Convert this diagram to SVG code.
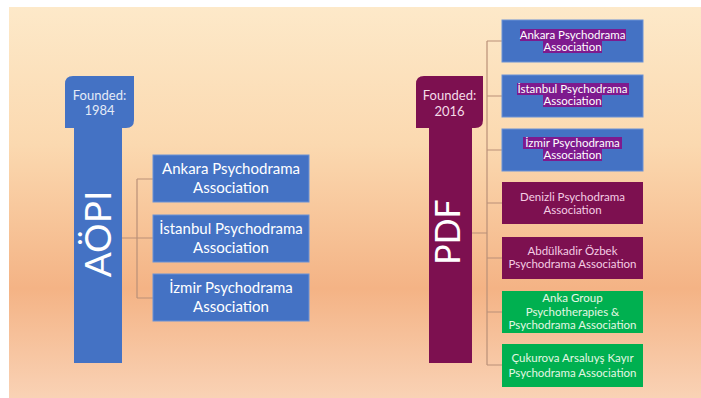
<svg xmlns="http://www.w3.org/2000/svg" width="701" height="398" viewBox="0 0 701 398">
<defs>
<linearGradient id="bg" x1="0" y1="0" x2="0" y2="1">
<stop offset="0" stop-color="#fde9c9"/>
<stop offset="0.35" stop-color="#fbd9b0"/>
<stop offset="0.72" stop-color="#f4b385"/>
<stop offset="1" stop-color="#f9d2b5"/>
</linearGradient>
<style>
text{font-family:Lato,"Liberation Sans",sans-serif;text-anchor:middle}
.blue{fill:#4472c4}
.lbox{fill:#4472c4;stroke:#6b92d6;stroke-width:1}
.maroon{fill:#7d1050}
.green{fill:#00b050}
.hl{fill:#7e1a8e}
.lt{fill:#ffffff;font-size:15px}
.ht{fill:#e4ebf7;font-size:13px}
.rt{font-size:11.5px}
.wt{fill:#ffffff}
.pt{fill:#f4cde4}
.gt{fill:#e4f7e4}
.con{fill:none;stroke:#b99078;stroke-width:1.2}
</style>
</defs>
<rect x="0" y="0" width="701" height="398" fill="#ffffff"/>
<rect x="9" y="7" width="692" height="391" fill="url(#bg)"/>

<g id="connectors">
<path class="con" d="M122 238H137M137 179V298M137 179H153M137 238H153M137 298H153"/>
<path class="con" d="M472 233H487M487 41V365M487 41H502M487 96H502M487 150H502M487 203H502M487 258H502M487 312H502M487 365H502"/>
</g>

<g id="aopi">
<rect class="blue" x="74" y="126" width="48" height="237"/>
<path class="blue" d="M73 76H134V120Q134 128 126 128H65V84Q65 76 73 76Z"/>
<text class="ht" x="99.5" y="100">Founded:</text>
<text class="ht" x="99.5" y="115">1984</text>
<text fill="#ffffff" font-size="37" transform="translate(111,234) rotate(-90)">AÖPI</text>
</g>

<g id="l1">
<rect class="lbox" x="153" y="155" width="156" height="47"/>
<text class="lt" x="231" y="174">Ankara Psychodrama</text>
<text class="lt" x="231" y="193">Association</text>
</g>
<g id="l2">
<rect class="lbox" x="153" y="215" width="156" height="47"/>
<text class="lt" x="231" y="234">İstanbul Psychodrama</text>
<text class="lt" x="231" y="253">Association</text>
</g>
<g id="l3">
<rect class="lbox" x="153" y="274" width="156" height="47"/>
<text class="lt" x="231" y="293">İzmir Psychodrama</text>
<text class="lt" x="231" y="312">Association</text>
</g>

<g id="pdf">
<rect class="maroon" x="429" y="126" width="43" height="237"/>
<path class="maroon" d="M424 76H483V120Q483 128 475 128H416V84Q416 76 424 76Z"/>
<text class="ht" x="449.5" y="100" style="fill:#f4dce8">Founded:</text>
<text class="ht" x="449.5" y="116" style="fill:#f4dce8">2016</text>
<text fill="#ffffff" font-size="34" transform="translate(460,232) rotate(-90)">PDF</text>
</g>

<g id="r1">
<rect class="lbox" x="502" y="20" width="141" height="42"/>
<rect class="hl" x="520" y="29" width="106" height="12"/>
<rect class="hl" x="543" y="41" width="59" height="12"/>
<text class="rt wt" x="572.5" y="38.5">Ankara Psychodrama</text>
<text class="rt wt" x="572.5" y="50.5">Association</text>
</g>
<g id="r2">
<rect class="lbox" x="502" y="75" width="141" height="42"/>
<rect class="hl" x="517" y="83" width="112" height="12"/>
<rect class="hl" x="543" y="95" width="59" height="12"/>
<text class="rt wt" x="572.5" y="92.5">İstanbul Psychodrama</text>
<text class="rt wt" x="572.5" y="104.5">Association</text>
</g>
<g id="r3">
<rect class="lbox" x="502" y="129" width="141" height="42"/>
<rect class="hl" x="523" y="137" width="99" height="12"/>
<rect class="hl" x="543" y="149" width="59" height="12"/>
<text class="rt wt" x="572.5" y="146.5">İzmir Psychodrama</text>
<text class="rt wt" x="572.5" y="158.5">Association</text>
</g>
<g id="r4">
<rect class="maroon" x="502" y="182" width="141" height="42"/>
<text class="rt pt" x="572.5" y="201">Denizli Psychodrama</text>
<text class="rt pt" x="572.5" y="214">Association</text>
</g>
<g id="r5">
<rect class="maroon" x="502" y="237" width="141" height="42"/>
<text class="rt pt" x="572.5" y="255">Abdülkadir Özbek</text>
<text class="rt pt" x="572.5" y="268">Psychodrama Association</text>
</g>
<g id="r6">
<rect class="green" x="502" y="291" width="141" height="42"/>
<text class="rt gt" x="572.5" y="302">Anka Group</text>
<text class="rt gt" x="572.5" y="316">Psychotherapies &amp;</text>
<text class="rt gt" x="572.5" y="329">Psychodrama Association</text>
</g>
<g id="r7">
<rect class="green" x="502" y="344" width="141" height="43"/>
<text class="rt gt" x="572.5" y="362">Çukurova Arsaluyş Kayır</text>
<text class="rt gt" x="572.5" y="377">Psychodrama Association</text>
</g>
</svg>
